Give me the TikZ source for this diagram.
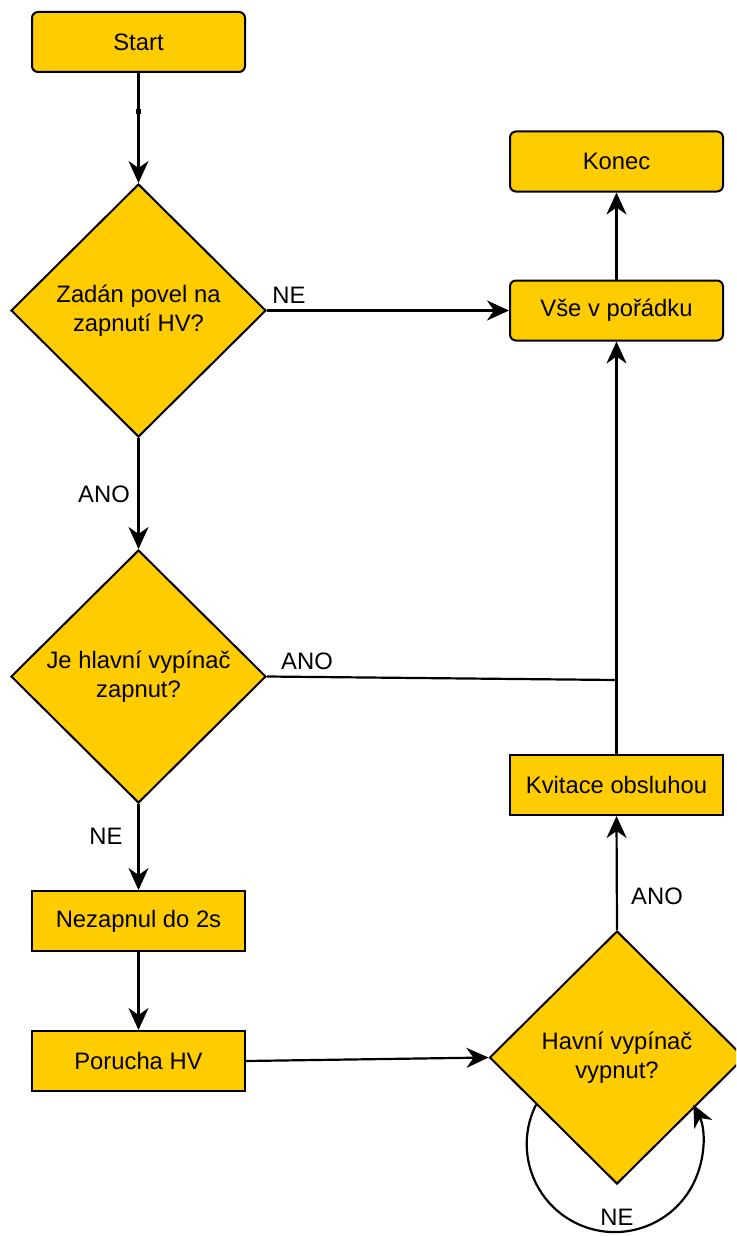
\documentclass[tikz,border=0pt]{standalone}
\usepackage{fontspec}
\setmainfont{Liberation Sans}
\usetikzlibrary{shapes.geometric,arrows.meta,calc}
\definecolor{boxfill}{HTML}{FFCC00}
\begin{document}
\begin{tikzpicture}[x=0.5pt, y=-0.5pt,
  font=\fontsize{11.9pt}{14.6pt}\selectfont,
  term/.style={draw, line width=1pt, fill=boxfill, rounded corners=3pt,
    minimum width=106.5pt, minimum height=30pt, inner sep=0pt, align=center},
  proc/.style={draw, line width=1pt, fill=boxfill,
    minimum width=106.5pt, minimum height=30pt, inner sep=0pt, align=center},
  decision/.style={diamond, draw, line width=1pt, fill=boxfill, aspect=1,
    minimum width=127.5pt, minimum height=126.5pt, inner sep=0pt, align=center},
  conn/.style={line width=1.1pt, -{Stealth[length=11pt, width=10pt, inset=3.5pt]}},
  plain/.style={line width=1.1pt},
  lbl/.style={inner sep=0pt}
]
\clip (0,0) rectangle (736,1236);

% left column
\node[term] (start) at (138.5,42) {Start};
\node[decision] (d1) at (138.5,310.5) {Zadán povel na\\zapnutí HV?};
\node[decision] (d2) at (138.5,676.5) {Je hlavní vypínač\\zapnut?};
\node[proc] (nez) at (138.5,921) {Nezapnul do 2s};
\node[proc] (por) at (138.5,1061) {Porucha HV};

% right column
\node[term] (konec) at (616.5,161.5) {Konec};
\node[term] (vse) at (616.5,310.5) {Vše v pořádku};
\node[proc] (kvit) at (616.5,785) {Kvitace obsluhou};
\node[decision] (d3) at (617,1057.5) {Havní vypínač\\vypnut?};

% connectors
\coordinate (bend) at (138.5,112);
\draw[conn] (start) -- (d1);
\fill (bend) ++(-2.5,-2.5) rectangle ++(5,5);
\draw[conn] (d1.east) -- (vse.west);
\draw[conn] (d1.south) -- (d2.north);
\draw[conn] (d2.south) -- (nez.north);
\draw[conn] (nez) -- (por);
\draw[conn] (por.east) -- (d3.west);
\draw[conn] (d3.north) -- (kvit.south);
\draw[conn] (kvit.north) -- (vse.south);
\draw[conn] (vse.north) -- (konec.south);
\coordinate (join) at (616.5,680);
\draw[plain] (d2.east) -- (join);
\draw[conn] ($(d3.west)!0.37!(d3.south)$) arc[start angle=206.6, end angle=-26.6, radius=88];

% branch labels
\node[lbl] (l1) at (289,295) {NE};
\node[lbl] (l2) at (104,494) {ANO};
\node[lbl] (l3) at (307,661) {ANO};
\node[lbl] (l4) at (106,836) {NE};
\node[lbl] (l5) at (657,896) {ANO};
\node[lbl] (l6) at (617,1217) {NE};
\end{tikzpicture}
\end{document}
